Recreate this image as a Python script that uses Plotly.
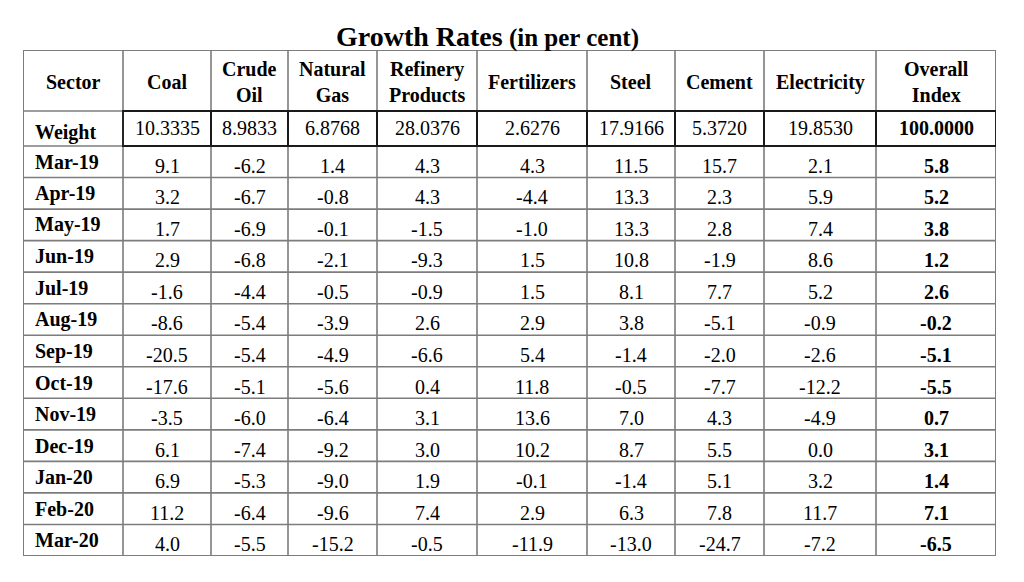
import plotly.graph_objects as go
import numpy as np

sectors = ["Coal", "Crude<br>Oil", "Natural<br>Gas", "Refinery<br>Products", "Fertilizers",
           "Steel", "Cement", "Electricity", "Overall<br>Index"]
weights = [10.3335, 8.9833, 6.8768, 28.0376, 2.6276, 17.9166, 5.3720, 19.8530, 100.0000]
months = ["Mar-19", "Apr-19", "May-19", "Jun-19", "Jul-19", "Aug-19", "Sep-19",
          "Oct-19", "Nov-19", "Dec-19", "Jan-20", "Feb-20", "Mar-20"]
coal = [9.1, 3.2, 1.7, 2.9, -1.6, -8.6, -20.5, -17.6, -3.5, 6.1, 6.9, 11.2, 4.0]
crude_oil = [-6.2, -6.7, -6.9, -6.8, -4.4, -5.4, -5.4, -5.1, -6.0, -7.4, -5.3, -6.4, -5.5]
natural_gas = [1.4, -0.8, -0.1, -2.1, -0.5, -3.9, -4.9, -5.6, -6.4, -9.2, -9.0, -9.6, -15.2]
refinery = [4.3, 4.3, -1.5, -9.3, -0.9, 2.6, -6.6, 0.4, 3.1, 3.0, 1.9, 7.4, -0.5]
fertilizers = [4.3, -4.4, -1.0, 1.5, 1.5, 2.9, 5.4, 11.8, 13.6, 10.2, -0.1, 2.9, -11.9]
steel = [11.5, 13.3, 13.3, 10.8, 8.1, 3.8, -1.4, -0.5, 7.0, 8.7, -1.4, 6.3, -13.0]
cement = [15.7, 2.3, 2.8, -1.9, 7.7, -5.1, -2.0, -7.7, 4.3, 5.5, 5.1, 7.8, -24.7]
electricity = [2.1, 5.9, 7.4, 8.6, 5.2, -0.9, -2.6, -12.2, -4.9, 0.0, 3.2, 11.7, -7.2]
overall = [5.8, 5.2, 3.8, 1.2, 2.6, -0.2, -5.1, -5.5, 0.7, 3.1, 1.4, 7.1, -6.5]

# ---- layout / style (not data) ----
OFF = 8                      # default page body margin
W, H = 1024 - 2 * OFF, 582 - 2 * OFF
FONT = "Liberation Serif"
FS = 20
GRID = "#7c7c7c"
col_widths = [100, 88, 77, 89, 100, 110, 88, 89, 112, 120]
header_h, weight_h = 61, 35
tx0, tx1, ty0, ty1 = 23, 996, 50, 556   # table box in screen px
n_rows = len(months)
row_h = (ty1 - ty0 - header_h - weight_h) / n_rows

col_edges = np.concatenate([[0], np.cumsum(col_widths)])
col_centers = (col_edges[:-1] + col_edges[1:]) / 2
row_edges = np.concatenate([[0, header_h, header_h + weight_h],
                            header_h + weight_h + row_h * np.arange(1, n_rows + 1)])
table_w, table_h = col_edges[-1], row_edges[-1]

series = [coal, crude_oil, natural_gas, refinery, fertilizers, steel, cement, electricity]

fig = go.Figure()
fig.add_trace(go.Scatter(x=[0, table_w], y=[0, table_h], mode="markers",
                         marker=dict(opacity=0), hoverinfo="skip", showlegend=False))

ann = []
def add_text(x, y, text, bold=False, xanchor="center", size=FS):
    ann.append(dict(x=x, y=y, xref="x", yref="y", showarrow=False,
                    text=("<b>%s</b>" % text) if bold else text,
                    xanchor=xanchor, yanchor="middle",
                    font=dict(family=FONT, size=size, color="black")))

# header
hc = header_h / 2 + 2
add_text(col_centers[0], hc, "Sector", bold=True)
for j, s in enumerate(sectors):
    add_text(col_centers[j + 1], hc, s, bold=True)

# weight row
wc = (row_edges[1] + row_edges[2]) / 2
add_text(col_edges[0] + 10, wc + 4, "Weight", bold=True, xanchor="left")
for j, w in enumerate(weights):
    add_text(col_centers[j + 1], wc, "%.4f" % w, bold=(j == len(weights) - 1))

# data rows
for i, m in enumerate(months):
    rc = (row_edges[i + 2] + row_edges[i + 3]) / 2
    add_text(col_edges[0] + 10, rc, m, bold=True, xanchor="left")
    for j, s in enumerate(series):
        add_text(col_centers[j + 1], rc + 4, "%.1f" % s[i])
    add_text(col_centers[-1], rc + 4, "%.1f" % overall[i], bold=True)

shapes = []
for yv in row_edges[1:-1]:
    shapes.append(dict(type="line", xref="x", yref="y", x0=0, x1=table_w, y0=yv, y1=yv,
                       line=dict(color=GRID, width=1.6)))
for xv in col_edges[1:-1]:
    shapes.append(dict(type="line", xref="x", yref="y", x0=xv, x1=xv, y0=0, y1=table_h,
                       line=dict(color=GRID, width=1.6)))
shapes.append(dict(type="rect", xref="x", yref="y", x0=0, x1=table_w, y0=0, y1=table_h,
                   line=dict(color=GRID, width=2)))
for j in range(1, len(col_widths)):
    shapes.append(dict(type="rect", xref="x", yref="y", x0=col_edges[j], x1=col_edges[j + 1],
                       y0=row_edges[1], y1=row_edges[2], line=dict(color="#1a1a1a", width=1.8)))

ann.append(dict(x=(487 - OFF) / W, y=1 - (36 - OFF) / H, xref="paper", yref="paper",
                showarrow=False, xanchor="center", yanchor="middle",
                text="<b><span style='font-size:28px'>Growth Rates</span> (in per cent)</b>",
                font=dict(family=FONT, size=25, color="black")))

fig.update_layout(
    width=W, height=H, margin=dict(l=0, r=0, t=0, b=0),
    paper_bgcolor="white", plot_bgcolor="white",
    xaxis=dict(domain=[(tx0 - OFF) / W, (tx1 - OFF) / W], range=[0, table_w],
               visible=False, fixedrange=True),
    yaxis=dict(domain=[1 - (ty1 - OFF) / H, 1 - (ty0 - OFF) / H], range=[table_h, 0],
               visible=False, fixedrange=True),
    annotations=ann, shapes=shapes, showlegend=False,
)

fig.write_html("out.html", config={"displayModeBar": False})
